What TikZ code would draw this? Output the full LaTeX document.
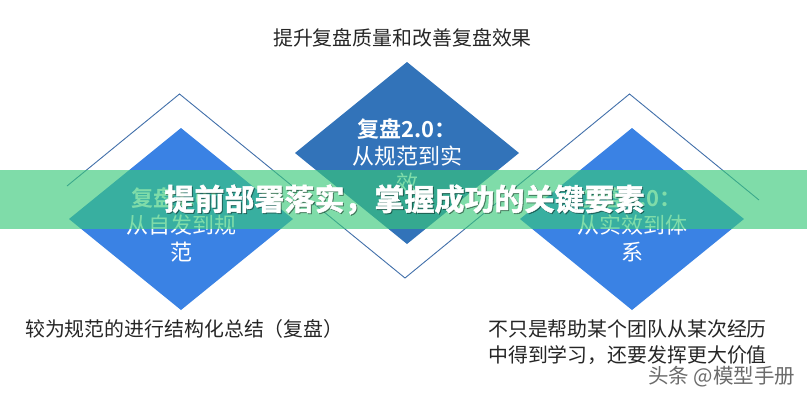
\documentclass[tikz,border=0pt]{standalone}
\usepackage{fontspec}
\setmainfont{Noto Sans CJK SC}
\newfontfamily\cjkbold{Noto Sans CJK SC Bold}
\newfontfamily\cjkheavy[FakeBold=1.6]{Noto Sans CJK SC Bold}
\definecolor{sideblue}{RGB}{58,130,228}
\definecolor{midblue}{RGB}{50,115,185}
\definecolor{framecol}{RGB}{66,112,170}
\definecolor{bandcol}{RGB}{55,201,121}
\definecolor{inkcol}{RGB}{38,38,38}
\tikzset{
  x=1pt,y=-1pt,
  frameline/.style={draw=framecol,line width=0.9pt,line join=miter},
  dia/.style={inner sep=0pt,align=center,text=white,font=\fontsize{22}{27}\selectfont},
  note/.style={inner sep=0pt,anchor=west,text=inkcol,align=left,font=\fontsize{19.9}{26.5}\selectfont},
  heading/.style={inner sep=0pt,font=\cjkheavy\fontsize{30}{32}\selectfont}
}
\begin{document}
\begin{tikzpicture}
\useasboundingbox (0,0) rectangle (807,400);
\fill[white] (0,0) rectangle (807,400);
% outline zig-zag
\draw[frameline] (67,186) -- (179.5,94) -- (405,278) -- (629.5,94) -- (759,200);
% diamonds
\fill[sideblue] (181,128) -- (293,219) -- (181,310) -- (69,219) -- cycle;
\fill[sideblue] (632,128) -- (744,219) -- (632,310) -- (520,219) -- cycle;
\fill[midblue] (407,62) -- (519,153) -- (407,244) -- (295,153) -- cycle;
% diamond labels
\node[dia] (midt) at (407,156) {{\cjkbold 复盘2.0：}\\从规范到实\\效};
\node[dia] (leftt) at (181,225) {{\cjkbold 复盘1.0：}\\从自发到规\\范};
\node[dia] (rightt) at (632,225) {{\cjkbold 复盘3.0：}\\从实效到体\\系};
% captions
\node[note,anchor=center] (top) at (402.5,38) {提升复盘质量和改善复盘效果};
\node[note] (bl) at (25,329) {较为规范的进行结构化总结（复盘）};
\node[note] (br) at (488,342) {不只是帮助某个团队从某次经历\\中得到学习，还要发挥更大价值};
\node[inner sep=0pt,anchor=west,text=black!58,font=\fontsize{20.5}{22}\selectfont] (wm) at (648,377) {头条 @模型手册};
% banner
\fill[bandcol,fill opacity=0.635] (0,170) rectangle (807,229);
% title with soft shadow
\node[heading,text=black,opacity=0.35] (titleshadow) at (405.5,200.5) {提前部署落实，掌握成功的关键要素};
\node[heading,text=white] (title) at (404.5,199.5) {提前部署落实，掌握成功的关键要素};
\end{tikzpicture}
\end{document}
